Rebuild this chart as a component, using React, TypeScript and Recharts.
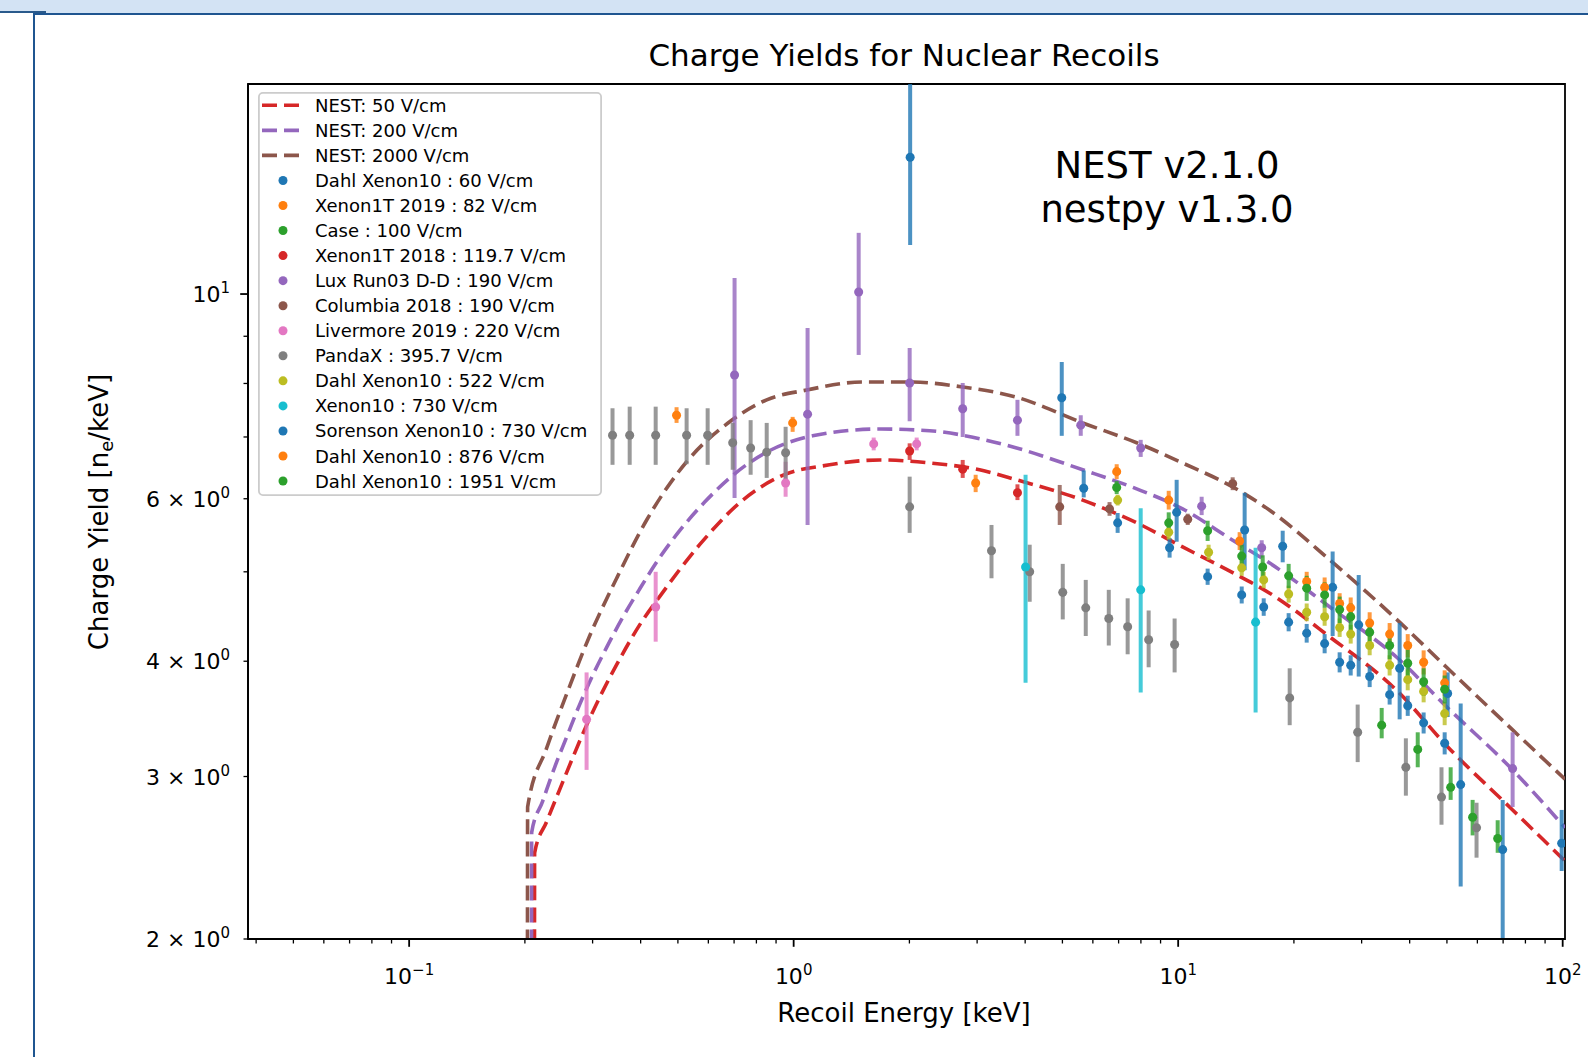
import React from "react";
import {
  ComposedChart,
  Line,
  Scatter,
  XAxis,
  YAxis,
  ErrorBar,
  Legend,
  ReferenceArea,
} from "recharts";

const FONT = '"DejaVu Sans", sans-serif';

// NEST model curves, [recoil energy keV, charge yield]
const NEST_50: [number, number][] = [
  [0.2115, 0.5], [0.212, 2.48], [0.2278, 2.68], [0.246, 2.9], [0.266, 3.14],
  [0.2894, 3.41], [0.3186, 3.71], [0.3527, 4.02], [0.3977, 4.38], [0.4482, 4.7],
  [0.5694, 5.35], [0.7238, 5.94], [0.9196, 6.34], [1.24, 6.53], [1.674, 6.61],
  [2.258, 6.56], [3.045, 6.45], [3.8, 6.29], [5.645, 5.98], [7.8, 5.65],
  [10.27, 5.32], [13.86, 4.99], [17.3, 4.74], [24.8, 4.25], [37.0, 3.72],
  [49.9, 3.24], [74.1, 2.76], [101.4, 2.43],
];
const NEST_200: [number, number][] = [
  [0.2078, 0.5], [0.2083, 2.61], [0.2224, 2.82], [0.239, 3.07], [0.2568, 3.31],
  [0.2776, 3.59], [0.3, 3.86], [0.3263, 4.14], [0.359, 4.46], [0.3977, 4.79],
  [0.4482, 5.18], [0.5052, 5.54], [0.5869, 5.95], [0.6817, 6.32], [0.851, 6.74],
  [1.12, 7.02], [1.674, 7.14], [2.258, 7.11], [3.045, 6.97], [3.8, 6.81],
  [5.645, 6.45], [7.8, 6.15], [10.27, 5.85], [13.86, 5.41], [17.3, 5.11],
  [24.8, 4.58], [37.0, 4.04], [49.9, 3.57], [74.1, 3.05], [101.4, 2.64],
];
const NEST_2000: [number, number][] = [
  [0.2028, 0.5], [0.2033, 2.78], [0.2278, 3.22], [0.2584, 3.71], [0.2947, 4.26],
  [0.3465, 4.92], [0.4147, 5.69], [0.5268, 6.58], [0.6817, 7.27], [0.851, 7.68],
  [1.081, 7.87], [1.512, 8.03], [2.003, 8.03], [2.752, 7.93], [3.8, 7.73],
  [5.645, 7.25], [7.8, 6.9], [10.27, 6.56], [13.86, 6.18], [17.3, 5.83],
  [24.8, 5.15], [37.0, 4.44], [49.9, 3.94], [74.1, 3.37], [101.4, 2.98],
];

// measurements, [energy keV, yield, lower error, upper error]
type Pt = [number, number, number, number];

const DAHL_60: Pt[] = [
  [6.96, 5.65, 0.14, 0.14], [9.5, 5.31, 0.13, 0.13], [11.93, 4.94, 0.1, 0.1],
  [14.63, 4.72, 0.1, 0.1], [16.69, 4.58, 0.1, 0.1], [19.38, 4.41, 0.1, 0.1],
  [21.59, 4.29, 0.1, 0.1], [24.04, 4.18, 0.1, 0.1], [26.3, 3.99, 0.1, 0.1],
  [28.1, 3.96, 0.1, 0.1], [31.48, 3.85, 0.1, 0.1], [35.48, 3.68, 0.09, 0.09],
  [39.54, 3.58, 0.09, 0.09], [43.49, 3.43, 0.09, 0.09], [49.33, 3.26, 0.09, 0.09],
];
const XENON1T_2019: Pt[] = [
  [0.496, 7.39, 0.14, 0.15], [0.994, 7.25, 0.16, 0.11], [2.974, 6.24, 0.14, 0.13],
];
const CASE_100: Pt[] = [
  [33.83, 3.41, 0.11, 0.15], [41.98, 3.21, 0.14, 0.14], [51.13, 2.92, 0.09, 0.15],
  [58.32, 2.71, 0.12, 0.12], [67.76, 2.57, 0.09, 0.12],
];
const XENON1T_2018: Pt[] = [
  [2.003, 6.76, 0.15, 0.13], [2.752, 6.46, 0.14, 0.15], [3.82, 6.09, 0.11, 0.13],
];
const LUX_DD: Pt[] = [
  [0.702, 8.17, 2.16, 2.24], [1.087, 7.41, 1.79, 1.78], [1.476, 10.05, 1.46, 1.6],
  [2.003, 8.01, 0.73, 0.73], [2.752, 7.51, 0.51, 0.5], [3.82, 7.3, 0.28, 0.38],
  [5.58, 7.21, 0.19, 0.18], [7.99, 6.81, 0.15, 0.14], [11.51, 5.89, 0.13, 0.14],
  [16.49, 5.31, 0.13, 0.1], [74.1, 3.06, 0.28, 0.29],
];
const COLUMBIA_2018: Pt[] = [
  [4.92, 5.88, 0.26, 0.33], [6.63, 5.85, 0.1, 0.1], [10.59, 5.7, 0.08, 0.08],
  [13.86, 6.23, 0.1, 0.1],
];
const LIVERMORE_2019: Pt[] = [
  [0.2894, 3.46, 0.41, 0.43], [0.4377, 4.58, 0.38, 0.42], [0.953, 6.24, 0.21, 0.34],
  [1.615, 6.88, 0.11, 0.11], [2.089, 6.88, 0.11, 0.11],
];
const PANDAX: Pt[] = [
  [0.338, 7.03, 0.5, 0.49], [0.3746, 7.03, 0.5, 0.52], [0.4377, 7.03, 0.5, 0.52],
  [0.5268, 7.03, 0.49, 0.49], [0.5975, 7.03, 0.5, 0.49], [0.6942, 6.9, 0.45, 0.35],
  [0.7729, 6.81, 0.44, 0.49], [0.851, 6.74, 0.42, 0.51], [0.953, 6.73, 0.49, 0.45],
  [2.003, 5.88, 0.37, 0.46], [3.27, 5.27, 0.35, 0.35], [4.11, 5.0, 0.36, 0.35],
  [5.01, 4.75, 0.31, 0.35], [5.75, 4.57, 0.31, 0.33], [6.6, 4.45, 0.29, 0.33],
  [7.39, 4.36, 0.29, 0.32], [8.38, 4.22, 0.28, 0.32], [9.79, 4.17, 0.28, 0.28],
  [19.5, 3.65, 0.24, 0.28], [29.3, 3.35, 0.24, 0.24], [39.1, 3.07, 0.21, 0.23],
  [48.4, 2.85, 0.19, 0.22], [59.7, 2.64, 0.19, 0.17],
];
const DAHL_522: Pt[] = [
  [6.96, 5.98, 0.08, 0.08], [9.45, 5.52, 0.1, 0.1], [12.0, 5.25, 0.1, 0.1],
  [14.63, 5.05, 0.1, 0.1], [16.69, 4.9, 0.1, 0.1], [19.38, 4.73, 0.1, 0.1],
  [21.59, 4.52, 0.1, 0.1], [24.04, 4.47, 0.1, 0.1], [26.3, 4.35, 0.1, 0.1],
  [28.1, 4.28, 0.1, 0.1], [31.48, 4.16, 0.1, 0.1], [35.48, 3.96, 0.1, 0.1],
  [39.54, 3.82, 0.1, 0.1], [43.49, 3.71, 0.1, 0.1], [49.33, 3.51, 0.1, 0.1],
];
const XENON10_730: Pt[] = [
  [4.01, 5.06, 1.27, 1.31], [7.99, 4.78, 1.08, 1.08], [15.9, 4.41, 0.89, 0.9],
];
// the first and the 70 keV bars run off the plot, so they stop at its edges
const SORENSON_730: Pt[] = [
  [2.009, 14.07, 2.77, 2.82], [4.98, 7.72, 0.7, 0.72], [5.68, 6.16, 0.14, 0.28],
  [9.91, 5.8, 0.41, 0.49], [14.89, 5.55, 0.53, 0.54], [18.7, 5.33, 0.21, 0.21],
  [25.22, 4.81, 0.55, 0.45], [29.48, 4.38, 0.53, 0.58], [37.67, 3.93, 0.47, 0.47],
  [50.22, 3.69, 0.21, 0.2], [54.29, 2.94, 0.66, 0.66], [69.82, 2.5, 0.5, 0.33],
  [99.4, 2.54, 0.17, 0.22],
];
const DAHL_876: Pt[] = [
  [6.92, 6.42, 0.12, 0.12], [9.45, 5.98, 0.14, 0.14], [14.45, 5.4, 0.12, 0.12],
  [21.59, 4.88, 0.12, 0.12], [24.04, 4.81, 0.12, 0.12], [26.3, 4.62, 0.12, 0.12],
  [28.1, 4.57, 0.12, 0.12], [31.48, 4.4, 0.12, 0.12], [35.48, 4.28, 0.12, 0.12],
  [39.54, 4.16, 0.12, 0.12], [43.49, 3.99, 0.12, 0.12], [49.33, 3.79, 0.12, 0.12],
];
const DAHL_1951: Pt[] = [
  [6.92, 6.17, 0.1, 0.1], [9.45, 5.65, 0.15, 0.15], [11.93, 5.54, 0.14, 0.14],
  [14.63, 5.2, 0.15, 0.15], [16.59, 5.06, 0.15, 0.15], [19.38, 4.95, 0.15, 0.15],
  [21.59, 4.8, 0.15, 0.15], [24.04, 4.72, 0.15, 0.15], [26.3, 4.55, 0.15, 0.15],
  [28.1, 4.47, 0.15, 0.15], [31.48, 4.3, 0.14, 0.14], [35.48, 4.16, 0.14, 0.14],
  [39.54, 3.98, 0.14, 0.14], [43.49, 3.8, 0.13, 0.13], [49.33, 3.73, 0.13, 0.13],
];

const CURVES = [
  { name: "NEST: 50 V/cm", color: "#d62728", data: NEST_50 },
  { name: "NEST: 200 V/cm", color: "#9467bd", data: NEST_200 },
  { name: "NEST: 2000 V/cm", color: "#8c564b", data: NEST_2000 },
];

const SERIES = [
  { name: "Dahl Xenon10 : 60 V/cm", color: "#1f77b4", data: DAHL_60 },
  { name: "Xenon1T 2019 : 82 V/cm", color: "#ff7f0e", data: XENON1T_2019 },
  { name: "Case : 100 V/cm", color: "#2ca02c", data: CASE_100 },
  { name: "Xenon1T 2018 : 119.7 V/cm", color: "#d62728", data: XENON1T_2018 },
  { name: "Lux Run03 D-D : 190 V/cm", color: "#9467bd", data: LUX_DD },
  { name: "Columbia 2018 : 190 V/cm", color: "#8c564b", data: COLUMBIA_2018 },
  { name: "Livermore 2019 : 220 V/cm", color: "#e377c2", data: LIVERMORE_2019 },
  { name: "PandaX : 395.7 V/cm", color: "#7f7f7f", data: PANDAX },
  { name: "Dahl Xenon10 : 522 V/cm", color: "#bcbd22", data: DAHL_522 },
  { name: "Xenon10 : 730 V/cm", color: "#17becf", data: XENON10_730 },
  { name: "Sorenson Xenon10 : 730 V/cm", color: "#1f77b4", data: SORENSON_730 },
  { name: "Dahl Xenon10 : 876 V/cm", color: "#ff7f0e", data: DAHL_876 },
  { name: "Dahl Xenon10 : 1951 V/cm", color: "#2ca02c", data: DAHL_1951 },
];

const X_DOMAIN = [0.0381, 101.4];
const Y_DOMAIN = [2, 16.89];
const X_MAJOR = [0.1, 1, 10, 100];
const X_EXP = ["\u22121", "0", "1", "2"];
const Y_TICKS = [2, 3, 4, 5, 6, 7, 8, 9, 10];
const Y_LABELS: Record<number, [string, string]> = {
  2: ["2 \u00d7 10", "0"],
  3: ["3 \u00d7 10", "0"],
  4: ["4 \u00d7 10", "0"],
  6: ["6 \u00d7 10", "0"],
  10: ["10", "1"],
};

// log ticks: 2..9 in each decade plus the powers of ten
const X_TICKS: number[] = [];
for (let d = 0.01; d < 200; d *= 10) {
  for (let k = 1; k < 10; k++) {
    const v = +(k * d).toPrecision(3);
    if (v >= X_DOMAIN[0] && v <= X_DOMAIN[1]) X_TICKS.push(v);
  }
}

const isMajor = (v: number) => X_MAJOR.findIndex((m) => Math.abs(m - v) / m < 1e-6);

function XTick(props: any) {
  const { x, y, payload } = props;
  const i = isMajor(payload.value);
  return (
    <g>
      <line
        x1={x}
        x2={x}
        y1={y}
        y2={y + (i >= 0 ? 7.8 : 4.5)}
        stroke="#000"
        strokeWidth={i >= 0 ? 1.8 : 1.3}
      />
      {i >= 0 && (
        <text x={x} y={y + 45} textAnchor="middle" fontSize={22} fontFamily={FONT} fill="#000">
          10
          <tspan dy={-9} fontSize={15}>
            {X_EXP[i]}
          </tspan>
        </text>
      )}
    </g>
  );
}

function YTick(props: any) {
  const { x, y, payload } = props;
  const v = payload.value;
  const label = Y_LABELS[v];
  const major = v === 10;
  return (
    <g>
      <line
        x1={x - (major ? 7.8 : 4.5)}
        x2={x}
        y1={y}
        y2={y}
        stroke="#000"
        strokeWidth={major ? 1.8 : 1.3}
      />
      {label && (
        <text x={x - 18} y={y + 8} textAnchor="end" fontSize={22} fontFamily={FONT} fill="#000">
          {label[0]}
          <tspan dy={-9} fontSize={15}>
            {label[1]}
          </tspan>
        </text>
      )}
    </g>
  );
}

function LegendBox() {
  const rowY = (i: number) => 13.3 + 25.05 * i;
  return (
    <svg width={344} height={404} style={{ display: "block" }}>
      <rect
        x={0.9}
        y={0.9}
        width={342.2}
        height={402.2}
        rx={4}
        fill="#fff"
        fillOpacity={0.8}
        stroke="#cccccc"
        strokeWidth={1.8}
      />
      {CURVES.map((c, i) => (
        <g key={c.name}>
          <line
            x1={4}
            x2={42}
            y1={rowY(i)}
            y2={rowY(i)}
            stroke={c.color}
            strokeWidth={3.6}
            strokeDasharray="15 7"
          />
          <text x={57} y={rowY(i) + 6.5} fontSize={18} fontFamily={FONT} fill="#000">
            {c.name}
          </text>
        </g>
      ))}
      {SERIES.map((s, j) => {
        const i = j + CURVES.length;
        return (
          <g key={s.name}>
            <circle cx={25} cy={rowY(i)} r={4.5} fill={s.color} />
            <text x={57} y={rowY(i) + 6.5} fontSize={18} fontFamily={FONT} fill="#000">
              {s.name}
            </text>
          </g>
        );
      })}
    </svg>
  );
}

export default function App() {
  const curves = CURVES.map((c) => ({ ...c, rows: c.data.map(([x, y]) => ({ x, y })) }));
  const series = SERIES.map((s) => ({
    ...s,
    rows: s.data.map(([x, y, lo, hi]) => ({ x, y, err: [lo, hi] })),
  }));

  return (
    <div
      style={{
        position: "fixed",
        left: 0,
        top: 0,
        width: 1588,
        height: 1057,
        background: "#fff",
        overflow: "hidden",
        fontFamily: FONT,
      }}
    >
      {/* notebook cell chrome */}
      <div style={{ position: "absolute", left: 0, top: 0, width: 1588, height: 13, background: "#d3e3f4" }} />
      <div style={{ position: "absolute", left: 0, top: 11, width: 46, height: 2, background: "#2a5a8c" }} />
      <div style={{ position: "absolute", left: 33, top: 13, width: 1555, height: 2, background: "#1f5590" }} />
      <div style={{ position: "absolute", left: 33, top: 13, width: 2, height: 1044, background: "#1f5590" }} />

      <div style={{ position: "absolute", left: 0, top: 0 }}>
        <ComposedChart width={1588} height={1057} margin={{ top: 84, right: 23, bottom: 58, left: 168 }}>
          <XAxis
            dataKey="x"
            type="number"
            scale="log"
            domain={X_DOMAIN}
            allowDataOverflow
            ticks={X_TICKS}
            interval={0}
            tick={<XTick />}
            tickLine={false}
            tickSize={0}
            tickMargin={0}
            axisLine={{ stroke: "#000", strokeWidth: 1.8 }}
            height={60}
          />
          <YAxis
            dataKey="y"
            type="number"
            scale="log"
            domain={Y_DOMAIN}
            allowDataOverflow
            ticks={Y_TICKS}
            interval={0}
            tick={<YTick />}
            tickLine={false}
            tickSize={0}
            tickMargin={0}
            axisLine={{ stroke: "#000", strokeWidth: 1.8 }}
            width={80}
          />
          <ReferenceArea
            x1={X_DOMAIN[0]}
            x2={X_DOMAIN[1]}
            y1={Y_DOMAIN[0]}
            y2={Y_DOMAIN[1]}
            fill="none"
            stroke="#000"
            strokeWidth={1.8}
            ifOverflow="visible"
          />
          {curves.map((c) => (
            <Line
              key={c.name}
              data={c.rows}
              dataKey="y"
              type="monotone"
              stroke={c.color}
              strokeWidth={3.6}
              strokeDasharray="15 7"
              dot={false}
              activeDot={false}
              isAnimationActive={false}
            />
          ))}
          {series.map((s) => (
            <Scatter
              key={s.name}
              name={s.name}
              data={s.rows}
              fill={s.color}
              shape="circle"
              isAnimationActive={false}
            >
              <ErrorBar
                dataKey="err"
                direction="y"
                width={0}
                stroke={s.color + "cc"}
                strokeWidth={4}
                isAnimationActive={false}
              />
            </Scatter>
          ))}
          <Legend
            layout="horizontal"
            verticalAlign="middle"
            align="center"
            content={() => <LegendBox />}
            wrapperStyle={{ position: "absolute", left: 258, top: 92, width: 344, height: 404 }}
          />
        </ComposedChart>
      </div>

      <svg
        width={1588}
        height={1057}
        style={{ position: "absolute", left: 0, top: 0, pointerEvents: "none" }}
        fontFamily={FONT}
      >
        <text x={904} y={66} textAnchor="middle" fontSize={31} fill="#000">
          Charge Yields for Nuclear Recoils
        </text>
        <text x={1167} y={178} textAnchor="middle" fontSize={37} fill="#000">
          NEST v2.1.0
        </text>
        <text x={1167} y={222} textAnchor="middle" fontSize={37} fill="#000">
          nestpy v1.3.0
        </text>
        <text x={904} y={1022} textAnchor="middle" fontSize={26} fill="#000">
          Recoil Energy [keV]
        </text>
        <text x={-512} y={108} transform="rotate(-90)" textAnchor="middle" fontSize={26} fill="#000">
          Charge Yield [n
          <tspan dy={5} fontSize={18}>
            e
          </tspan>
          <tspan dy={-5}>/keV]</tspan>
        </text>
      </svg>
    </div>
  );
}
